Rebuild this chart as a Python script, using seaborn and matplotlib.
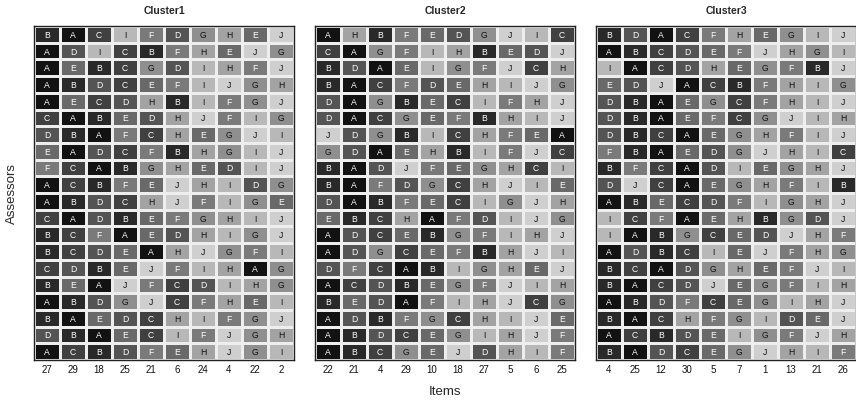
import numpy as np
import pandas as pd
import matplotlib
matplotlib.use("Agg")
import matplotlib.pyplot as plt
from matplotlib.colors import ListedColormap
import seaborn as sns

# Ranks (A = best ... J = worst) given by each assessor, rows top to bottom
letters = list("ABCDEFGHIJ")

cluster1_items = ["27", "29", "18", "25", "21", "6", "24", "4", "22", "2"]
cluster1_rows = [
    "BACIFDGHEJ", "ADICBFHEJG", "AEBCGDIHFJ", "ABDCEFIJGH", "AECDHBIFGJ",
    "CABEDHJFIG", "DBAFCHEGJI", "EADCFBHGIJ", "FCABGHEDIJ", "ACBFEJHIDG",
    "ABDCHJFIGE", "CADBEFGHIJ", "BCFAEDHIGJ", "BCDEAHJGFI", "CDBEJFIHAG",
    "BEAJFCDIHG", "ABDGJCFHEI", "BAEDCHIFGJ", "DBAECIFJGH", "ACBDFEHJGI",
]

cluster2_items = ["22", "21", "4", "29", "10", "18", "27", "5", "6", "25"]
cluster2_rows = [
    "AHBFEDGJIC", "CAGFIHBEDJ", "BDAEIGFJCH", "BACFDEHIJG", "DAGBECIFHJ",
    "DACGEFBHIJ", "JDGBICHFEA", "GDAEHBIFJC", "BADJFEGHCI", "BAFDGCHJIE",
    "DABFECIGJH", "EBCHAFDIJG", "ADCEBGFIHJ", "ADGCEFBHJI", "DFCABIGHEJ",
    "ACDBEGFJIH", "BEDAFIHJCG", "ADBFGCHIJE", "ABDCEGIHJF", "ABCGEJDHIF",
]

cluster3_items = ["4", "25", "12", "30", "5", "7", "1", "13", "21", "26"]
cluster3_rows = [
    "BDACFHEGIJ", "ABCDEFJHGI", "IACDHEGFBJ", "EDJACBFHIG", "DBAEGCFHIJ",
    "DBAEFCGJIH", "DBCAEGHFIJ", "FBAEDGJHIC", "BFCADIEGHJ", "DJCAEGHFIB",
    "ABECDFIGHJ", "ICFAEHBGDJ", "IABGCEDJHF", "ADBCIEJFHG", "BCADGHEFJI",
    "BACDJEGFIH", "ABDFCEGIHJ", "BACHFGIDEJ", "ACBDEIGFJH", "BADCEGJHIF",
]

titles = ["Cluster1", "Cluster2", "Cluster3"]
clusters = [
    (cluster1_items, cluster1_rows),
    (cluster2_items, cluster2_rows),
    (cluster3_items, cluster3_rows),
]

# Grey ramp: A darkest, J lightest
greys = [0.07, 0.16, 0.25, 0.33, 0.41, 0.48, 0.56, 0.64, 0.72, 0.81]
cmap = ListedColormap([(g, g, g) for g in greys])

sns.set_style("white")
plt.rcParams["font.family"] = ["Liberation Sans", "DejaVu Sans"]

W, H = 856, 406
fig = plt.figure(figsize=(W / 100, H / 100), dpi=100)

panel_left = [34, 315, 596]
panel_w = 260
top_px, bottom_px = 27, 361

for k, ((items, rows), title) in enumerate(zip(clusters, titles)):
    ax = fig.add_axes([panel_left[k] / W, 1 - bottom_px / H,
                       panel_w / W, (bottom_px - top_px) / H])
    codes = np.array([[letters.index(c) for c in r] for r in rows])
    labels = np.array([list(r) for r in rows])
    df = pd.DataFrame(codes, columns=items)
    sns.heatmap(df, ax=ax, cmap=cmap, vmin=-0.5, vmax=9.5, cbar=False,
                annot=labels, fmt="", linewidths=1.0, linecolor="#eeeeee",
                annot_kws={"fontsize": 6.2})
    # letters on dark cells in white, on light cells in black
    for t in ax.texts:
        t.set_color("white" if letters.index(t.get_text()) <= 5 else "#111111")
    ax.set_yticks([])
    ax.set_ylabel("")
    ax.set_xticklabels(items, rotation=0)
    ax.tick_params(axis="x", length=0, labelsize=7, pad=3, colors="#111111")
    for s in ax.spines.values():
        s.set_visible(True)
        s.set_color("#222222")
        s.set_linewidth(1.0)
    ax.set_title(title, fontsize=7.5, fontweight="bold", pad=9)

fig.text(12 / W, 1 - 194 / H, "Assessors", rotation=90, ha="center",
         va="center", fontsize=9.5)
fig.text(445 / W, 1 - 392 / H, "Items", ha="center", va="center",
         fontsize=9.5)

fig.savefig("out.png", dpi=100)
